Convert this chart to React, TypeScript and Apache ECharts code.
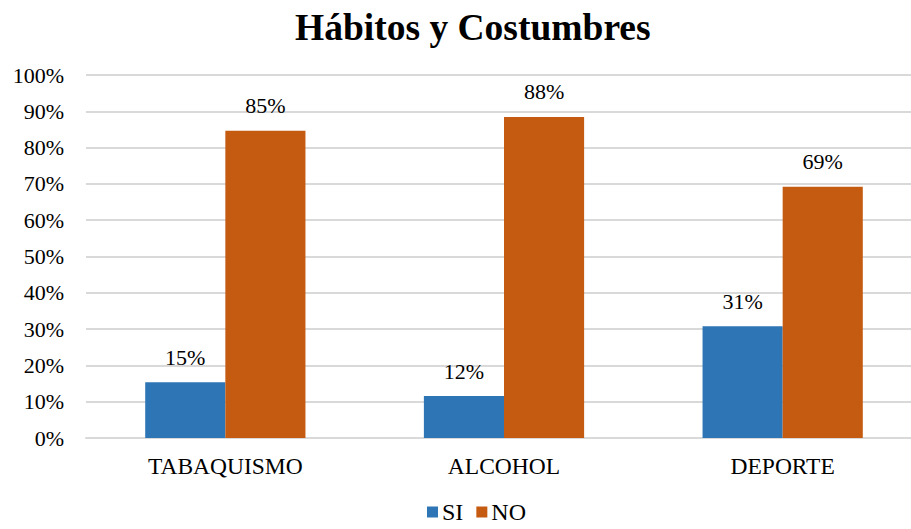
import React, { useEffect, useRef } from "react";
import * as echarts from "echarts";

const categories = ["TABAQUISMO", "ALCOHOL", "DEPORTE"];
const siValues = [15.38, 11.54, 30.77];
const noValues = [84.62, 88.46, 69.23];
const yTicks = [0, 10, 20, 30, 40, 50, 60, 70, 80, 90, 100];

const FONT = "'Liberation Serif', 'Times New Roman', serif";

export default function App() {
  const ref = useRef<HTMLDivElement>(null);
  useEffect(() => {
    if (!ref.current) return;
    const chart = echarts.init(ref.current, undefined, { renderer: "svg" });
    const label = {
      show: true,
      position: "top",
      distance: 14,
      color: "#000",
      fontFamily: FONT,
      fontSize: 22,
      formatter: (p: any) => Math.round(p.value) + "%",
    };
    chart.setOption({
      animation: false,
      textStyle: { fontFamily: FONT },
      title: {
        text: "Hábitos y Costumbres",
        left: 290,
        top: 3,
        padding: 5,
        textStyle: { fontFamily: FONT, fontSize: 37.5, fontWeight: "bold", color: "#000" },
      },
      legend: {
        bottom: 0,
        left: 422,
        padding: 5,
        itemWidth: 11,
        itemHeight: 11,
        itemGap: 13,
        icon: "rect",
        textStyle: { fontFamily: FONT, fontSize: 24, color: "#000", padding: [0, 0, 0, -1] },
        data: ["SI", "NO"],
      },
      grid: { left: 86, right: 3, top: 75, bottom: 91, containLabel: false },
      xAxis: {
        type: "category",
        data: categories,
        axisTick: { show: false },
        axisLine: { lineStyle: { color: "#d9d9d9", width: 2 } },
        axisLabel: { fontFamily: FONT, fontSize: 23.5, color: "#000", margin: 16 },
      },
      yAxis: {
        type: "value",
        min: yTicks[0],
        max: yTicks[yTicks.length - 1],
        interval: 10,
        axisLine: { show: false },
        axisTick: { show: false },
        splitLine: { lineStyle: { color: "#d9d9d9", width: 2 } },
        axisLabel: { fontFamily: FONT, fontSize: 22, color: "#000", margin: 22, formatter: "{value}%" },
      },
      series: [
        {
          name: "SI",
          type: "bar",
          data: siValues,
          barGap: "0%",
          barCategoryGap: "42.5%",
          itemStyle: { color: "#2E75B6" },
          label,
        },
        {
          name: "NO",
          type: "bar",
          data: noValues,
          barGap: "0%",
          barCategoryGap: "42.5%",
          itemStyle: { color: "#C55A11" },
          label,
        },
      ],
    });
    return () => chart.dispose();
  }, []);
  return (
    <div
      ref={ref}
      style={{ position: "fixed", left: 0, top: 0, width: 925, height: 529, background: "#fff" }}
    />
  );
}
